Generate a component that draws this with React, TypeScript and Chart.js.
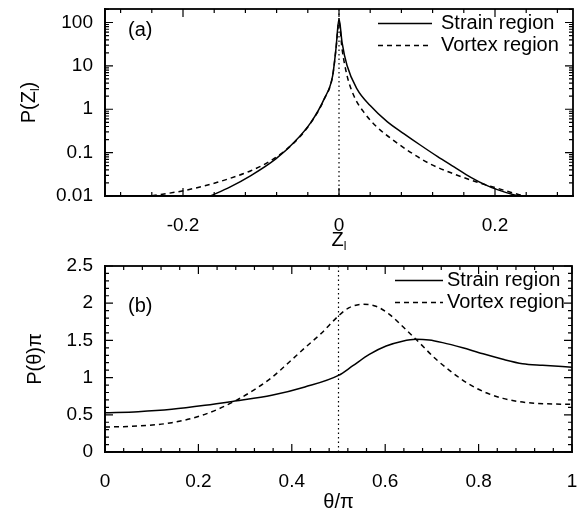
import React, { useEffect, useRef } from "react";
import { Chart, registerables } from "chart.js";

Chart.register(...registerables);

const FONT = "'Liberation Sans', Arial, Helvetica, sans-serif";

// ---------- Panel (a): P(Z_l), log scale ----------
const aStrainZ = [-0.165, -0.14, -0.113, -0.081, -0.0575, -0.036, -0.019, -0.0081, -0.0039, 0, 0.0039, 0.0103, 0.023, 0.04, 0.0617, 0.083, 0.1046, 0.126, 0.1475, 0.169, 0.19, 0.203, 0.225, 0.235];
const aStrainP = [0.01, 0.016, 0.0295, 0.0716, 0.174, 0.5, 1.74, 6.0, 24.8, 122, 35, 10.2, 2.96, 1.22, 0.52, 0.275, 0.148, 0.082, 0.047, 0.027, 0.0173, 0.014, 0.0105, 0.0095];
const aVortexZ = [-0.24, -0.199, -0.156, -0.113, -0.0875, -0.0575, -0.036, -0.019, -0.0081, -0.0039, 0, 0.0039, 0.0103, 0.0189, 0.0318, 0.0489, 0.0703, 0.0917, 0.117, 0.1475, 0.1775, 0.203, 0.229, 0.245];
const aVortexP = [0.0101, 0.0133, 0.0207, 0.0383, 0.0653, 0.17, 0.49, 1.7, 5.9, 24, 105, 24.8, 6.0, 2.07, 0.857, 0.386, 0.189, 0.102, 0.0548, 0.0322, 0.0207, 0.0151, 0.011, 0.0095];
const aXTicks = [-0.2, 0, 0.2];
const aXLabels = ["-0.2", "0", "0.2"];
const aYTicks = [0.01, 0.1, 1, 10, 100];
const aYLabels = ["0.01", "0.1", "1", "10", "100"];

// ---------- Panel (b): P(theta) pi ----------
const bStrainT = [0, 0.071, 0.143, 0.214, 0.278, 0.357, 0.428, 0.5, 0.53, 0.566, 0.602, 0.637, 0.666, 0.694, 0.723, 0.766, 0.801, 0.852, 0.894, 0.937, 1.0];
const bStrainP = [0.527, 0.542, 0.574, 0.627, 0.685, 0.762, 0.874, 1.03, 1.156, 1.313, 1.425, 1.49, 1.515, 1.505, 1.47, 1.4, 1.335, 1.246, 1.187, 1.165, 1.14];
const bVortexT = [0, 0.071, 0.143, 0.214, 0.278, 0.321, 0.357, 0.393, 0.428, 0.464, 0.5, 0.523, 0.552, 0.58, 0.609, 0.637, 0.673, 0.709, 0.744, 0.78, 0.816, 0.852, 0.887, 0.923, 1.0];
const bVortexP = [0.335, 0.349, 0.394, 0.506, 0.685, 0.842, 1.0, 1.2, 1.4, 1.6, 1.83, 1.94, 1.985, 1.96, 1.85, 1.69, 1.47, 1.246, 1.066, 0.91, 0.797, 0.721, 0.676, 0.654, 0.64];
const bXTicks = [0, 0.2, 0.4, 0.6, 0.8, 1];
const bXLabels = ["0", "0.2", "0.4", "0.6", "0.8", "1"];
const bYTicks = [0, 0.5, 1, 1.5, 2, 2.5];
const bYLabels = ["0", "0.5", "1", "1.5", "2", "2.5"];

const SERIES_LABELS = ["Strain region", "Vortex region"];

type Part = { t: string; sub?: boolean };
const aXTitle: Part[] = [{ t: "Z" }, { t: "l", sub: true }];
const aYTitle: Part[] = [{ t: "P(Z" }, { t: "l", sub: true }, { t: ")" }];
const bXTitle: Part[] = [{ t: "θ/π" }];
const bYTitle: Part[] = [{ t: "P(θ)π" }];

function pts(xs: number[], ys: number[]) {
  return xs.map((x, i) => ({ x, y: ys[i] }));
}

function drawParts(ctx: CanvasRenderingContext2D, parts: Part[], cx: number, cy: number, size: number, rotated: boolean) {
  ctx.save();
  ctx.translate(cx, cy);
  if (rotated) ctx.rotate(-Math.PI / 2);
  ctx.textBaseline = "middle";
  ctx.textAlign = "left";
  ctx.fillStyle = "#000";
  const subSize = Math.round(size * 0.62);
  const widths = parts.map((p) => {
    ctx.font = `${p.sub ? subSize : size}px ${FONT}`;
    return ctx.measureText(p.t).width;
  });
  const total = widths.reduce((a, b) => a + b, 0);
  let x = -total / 2;
  parts.forEach((p, i) => {
    ctx.font = `${p.sub ? subSize : size}px ${FONT}`;
    ctx.fillText(p.t, x, p.sub ? size * 0.33 : 0);
    x += widths[i];
  });
  ctx.restore();
}

type Panel = {
  sx: number[]; sy: number[]; vx: number[]; vy: number[];
  xMin: number; xMax: number; yMin: number; yMax: number; yLog: boolean;
  xTicks: number[]; xLabels: string[]; yTicks: number[]; yLabels: string[];
  xMinorStep: number; yMinorStep: number;
  padTop: number; padRight: number; xAxisH: number;
  vline: number;
  tag: string; tagDy: number;
  legendSample: [number, number]; legendText: number;
  xTitle: Part[]; yTitle: Part[]; xTitleY: number; yTitleX: number;
};

function drawFrame(chart: any, p: Panel) {
  const ctx: CanvasRenderingContext2D = chart.ctx;
  const { left: L, right: R, top: TP, bottom: B } = chart.chartArea;
  const xs = chart.scales.x;
  const ys = chart.scales.y;
  ctx.save();
  ctx.setLineDash([]);
  ctx.strokeStyle = "#000";
  ctx.lineWidth = 1.8;
  ctx.lineJoin = "miter";
  ctx.strokeRect(Math.round(L), Math.round(TP), Math.round(R - L), Math.round(B - TP));
  const MAJ = 8, MIN = 4;
  ctx.lineWidth = 1.2;
  ctx.beginPath();
  const vt = (v: number, len: number) => {
    const x = xs.getPixelForValue(v);
    ctx.moveTo(x, B); ctx.lineTo(x, B - len);
    ctx.moveTo(x, TP); ctx.lineTo(x, TP + len);
  };
  const ht = (v: number, len: number) => {
    const y = ys.getPixelForValue(v);
    ctx.moveTo(L, y); ctx.lineTo(L + len, y);
    ctx.moveTo(R, y); ctx.lineTo(R - len, y);
  };
  p.xTicks.forEach((v) => vt(v, MAJ));
  const nx = Math.round((p.xMax - p.xMin) / p.xMinorStep);
  for (let i = -nx; i <= nx; i++) {
    const v = i * p.xMinorStep;
    if (v <= p.xMin + 1e-9 || v >= p.xMax - 1e-9) continue;
    if (p.xTicks.some((t) => Math.abs(t - v) < 1e-9)) continue;
    vt(v, MIN);
  }
  p.yTicks.forEach((v) => ht(v, MAJ));
  if (p.yLog) {
    for (let k = -2; k <= 2; k++) {
      for (let m = 2; m <= 9; m++) {
        const v = m * Math.pow(10, k);
        if (v < p.yMax) ht(v, MIN);
      }
    }
  } else {
    const ny = Math.round((p.yMax - p.yMin) / p.yMinorStep);
    for (let i = 1; i < ny; i++) {
      const v = p.yMin + i * p.yMinorStep;
      if (p.yTicks.some((t) => Math.abs(t - v) < 1e-9)) continue;
      ht(v, MIN);
    }
  }
  ctx.stroke();
  ctx.restore();
}

function makePlugin(p: Panel) {
  return {
    id: "frameDeco",
    beforeDatasetsDraw(chart: any) {
      const ctx: CanvasRenderingContext2D = chart.ctx;
      const { top, bottom } = chart.chartArea;
      const px = chart.scales.x.getPixelForValue(p.vline);
      ctx.save();
      ctx.strokeStyle = "#000";
      ctx.lineWidth = 1.2;
      ctx.setLineDash([1.5, 3]);
      ctx.beginPath();
      ctx.moveTo(px, top);
      ctx.lineTo(px, bottom);
      ctx.stroke();
      ctx.restore();
    },
    afterDraw(chart: any) {
      const ctx: CanvasRenderingContext2D = chart.ctx;
      const { left, right, top, bottom } = chart.chartArea;
      ctx.save();
      ctx.fillStyle = "#000";
      ctx.strokeStyle = "#000";
      ctx.font = `20px ${FONT}`;
      ctx.textBaseline = "middle";
      ctx.textAlign = "left";
      ctx.fillText(p.tag, left + 23, top + p.tagDy);
      chart.data.datasets.forEach((ds: any, i: number) => {
        const y = top + 14.5 + i * 22;
        ctx.lineWidth = 1.5;
        ctx.setLineDash(ds.borderDash || []);
        ctx.beginPath();
        ctx.moveTo(right - p.legendSample[0], y);
        ctx.lineTo(right - p.legendSample[1], y);
        ctx.stroke();
        ctx.setLineDash([]);
        ctx.fillText(ds.label, right - p.legendText, y);
      });
      ctx.restore();
      drawFrame(chart, p);
      drawParts(ctx, p.xTitle, (left + right) / 2, p.xTitleY, 20, false);
      drawParts(ctx, p.yTitle, p.yTitleX, (top + bottom) / 2, 20, true);
    },
  };
}

function makeConfig(p: Panel): any {
  const common = {
    borderColor: "#000",
    borderWidth: 1.5,
    pointRadius: 0,
    fill: false,
    cubicInterpolationMode: "monotone",
  };
  return {
    type: "line",
    data: {
      datasets: [
        { ...common, label: SERIES_LABELS[0], data: pts(p.sx, p.sy) },
        { ...common, label: SERIES_LABELS[1], data: pts(p.vx, p.vy), borderDash: [5, 4] },
      ],
    },
    options: {
      animation: false,
      responsive: false,
      events: [],
      layout: { padding: { top: p.padTop, right: p.padRight, left: 0, bottom: 0 } },
      plugins: { legend: { display: false }, tooltip: { enabled: false } },
      scales: {
        x: {
          type: "linear",
          min: p.xMin,
          max: p.xMax,
          afterBuildTicks: (s: any) => { s.ticks = p.xTicks.map((v) => ({ value: v })); },
          afterFit: (s: any) => { s.height = p.xAxisH; s.paddingLeft = 0; s.paddingRight = 0; },
          grid: { display: false, drawTicks: false },
          border: { display: true, color: "#000", width: 1.8 },
          ticks: {
            callback: (_v: any, i: number) => p.xLabels[i],
            font: { family: FONT, size: 19 },
            color: "#000",
            padding: 18,
            maxRotation: 0,
            autoSkip: false,
          },
        },
        y: {
          type: p.yLog ? "logarithmic" : "linear",
          min: p.yMin,
          max: p.yMax,
          afterBuildTicks: (s: any) => { s.ticks = p.yTicks.map((v) => ({ value: v })); },
          afterFit: (s: any) => { s.width = 105; s.paddingTop = 0; s.paddingBottom = 0; },
          grid: { display: false, drawTicks: false },
          border: { display: true, color: "#000", width: 1.8 },
          ticks: {
            callback: (_v: any, i: number) => p.yLabels[i],
            font: { family: FONT, size: 19 },
            color: "#000",
            padding: 12,
            autoSkip: false,
          },
        },
      },
    },
    plugins: [makePlugin(p)],
  };
}

const panelA: Panel = {
  sx: aStrainZ, sy: aStrainP, vx: aVortexZ, vy: aVortexP,
  xMin: -0.3, xMax: 0.3, yMin: 0.01, yMax: 205, yLog: true,
  xTicks: aXTicks, xLabels: aXLabels, yTicks: aYTicks, yLabels: aYLabels,
  xMinorStep: 0.04, yMinorStep: 0,
  padTop: 9, padRight: 12, xAxisH: 59,
  vline: 0,
  tag: "(a)", tagDy: 21,
  legendSample: [195, 141], legendText: 132,
  xTitle: aXTitle, yTitle: aYTitle, xTitleY: 240, yTitleX: 29,
};

const panelB: Panel = {
  sx: bStrainT, sy: bStrainP, vx: bVortexT, vy: bVortexP,
  xMin: 0, xMax: 1, yMin: 0, yMax: 2.5, yLog: false,
  xTicks: bXTicks, xLabels: bXLabels, yTicks: bYTicks, yLabels: bYLabels,
  xMinorStep: 0.04, yMinorStep: 0.1,
  padTop: 11, padRight: 13, xAxisH: 58,
  vline: 0.5,
  tag: "(b)", tagDy: 40,
  legendSample: [177, 129], legendText: 125,
  xTitle: bXTitle, yTitle: bYTitle, xTitleY: 247, yTitleX: 35,
};

export default function App() {
  const refA = useRef<HTMLCanvasElement | null>(null);
  const refB = useRef<HTMLCanvasElement | null>(null);

  useEffect(() => {
    const charts: Chart[] = [];
    if (refA.current) charts.push(new Chart(refA.current, makeConfig(panelA)));
    if (refB.current) charts.push(new Chart(refB.current, makeConfig(panelB)));
    return () => charts.forEach((c) => c.destroy());
  }, []);

  return (
    <div style={{ position: "absolute", left: 0, top: 0, width: 585, height: 510, background: "#fff" }}>
      <canvas ref={refA} width={585} height={255} style={{ display: "block", width: 585, height: 255 }} />
      <canvas ref={refB} width={585} height={255} style={{ display: "block", width: 585, height: 255 }} />
    </div>
  );
}
